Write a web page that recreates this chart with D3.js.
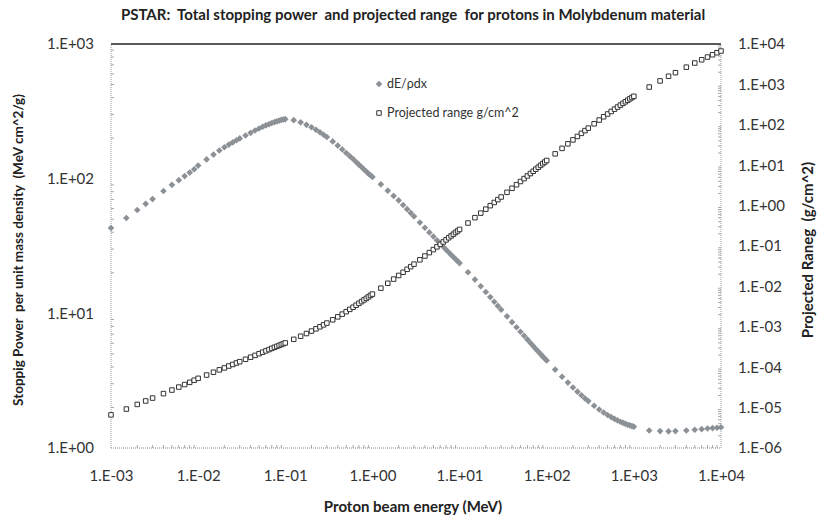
<!DOCTYPE html>
<html>
<head>
<meta charset="utf-8">
<script src="https://cdn.jsdelivr.net/npm/d3@7"></script>
<style>
  body { margin: 0; background: #fff; }
  text { font-family: Lato, "Open Sans", sans-serif; fill: #333; white-space: pre; }
  .ttl { font-weight: bold; fill: #222; }
</style>
</head>
<body>
<div id="chart"></div>
<script>
const width = 821;
const height = 519;

// PSTAR energy grid (MeV)
const energy = [0.001,0.0015,0.002,0.0025,0.003,0.004,0.005,0.006,0.007,0.008,0.009,
  0.01,0.0125,0.015,0.0175,0.02,0.0225,0.025,0.0275,0.03,0.035,0.04,0.045,0.05,0.055,0.06,0.065,0.07,0.075,0.08,0.085,0.09,0.095,
  0.1,0.125,0.15,0.175,0.2,0.225,0.25,0.275,0.3,0.35,0.4,0.45,0.5,0.55,0.6,0.65,0.7,0.75,0.8,0.85,0.9,0.95,
  1,1.25,1.5,1.75,2,2.25,2.5,2.75,3,3.5,4,4.5,5,5.5,6,6.5,7,7.5,8,8.5,9,9.5,
  10,12.5,15,17.5,20,22.5,25,27.5,30,35,40,45,50,55,60,65,70,75,80,85,90,95,
  100,125,150,175,200,225,250,275,300,350,400,450,500,550,600,650,700,750,800,850,900,950,
  1000,1500,2000,2500,3000,4000,5000,6000,7000,8000,9000,10000];

// total stopping power dE/(rho dx), MeV cm^2/g
const stopping = [43,51,58.5,65,70.5,81,90,97.5,104.5,111,117.5,
  125,139,151,162,171,179,186,193,199,209,219,228,236,243,249,254,259,263,266.5,270,273,275,
  276.5,272,262,251,241,231,221,212,204,189,176,165,155,147,140,133,127,122,117,113,109,106,
  103,90.8,81.5,74.5,69,63.8,59.4,55.7,52.5,47.3,43.2,39.9,37.2,34.9,32.9,31.2,29.7,28.4,27.2,26.2,25.2,24.4,
  23.6,20.2,17.8,15.9,14.4,13.2,12.2,11.35,10.65,9.5,8.6,7.88,7.3,6.82,6.4,6.03,5.72,5.44,5.2,4.98,4.79,4.61,
  4.46,3.82,3.38,3.06,2.815,2.62,2.465,2.335,2.23,2.06,1.933,1.835,1.758,1.696,1.644,1.602,1.567,1.537,1.511,1.489,1.471,1.455,
  1.44,1.35,1.335,1.33,1.335,1.35,1.365,1.38,1.395,1.405,1.415,1.425];

// projected range, g/cm^2
const range = [6.6e-6,9.2e-6,1.2e-5,1.46e-5,1.72e-5,2.22e-5,2.72e-5,3.22e-5,3.72e-5,4.22e-5,4.76e-5,
  5.3e-5,6.4e-5,7.5e-5,8.6e-5,9.6e-5,1.07e-4,1.17e-4,1.27e-4,1.37e-4,1.57e-4,1.77e-4,1.96e-4,2.16e-4,2.35e-4,2.54e-4,2.73e-4,2.92e-4,3.1e-4,3.28e-4,3.46e-4,3.64e-4,3.82e-4,
  3.99e-4,4.9e-4,5.84e-4,6.82e-4,7.84e-4,8.9e-4,1.001e-3,1.116e-3,1.236e-3,1.49e-3,1.764e-3,2.057e-3,2.37e-3,2.701e-3,3.049e-3,3.415e-3,3.8e-3,4.202e-3,4.62e-3,5.055e-3,5.505e-3,5.97e-3,
  6.45e-3,9.04e-3,1.195e-2,1.515e-2,1.865e-2,2.24e-2,2.65e-2,3.08e-2,3.55e-2,4.55e-2,5.65e-2,6.86e-2,8.15e-2,9.54e-2,0.110,0.126,0.142,0.160,0.178,0.196,0.216,0.236,
  0.257,0.371,0.503,0.651,0.816,0.997,1.194,1.406,1.633,2.13,2.68,3.29,3.95,4.66,5.42,6.22,7.07,7.97,8.91,9.89,10.91,11.97,
  13.07,19.1,26.1,33.8,42.3,51.5,61.4,71.8,82.7,106,131,158,185,214,244,275,307,339,372,405,439,473,
  507,860,1220,1590,1950,2670,3380,4070,4750,5420,6080,6700];

const xDomain = [1e-3, 1e4];
const yLeftDomain = [1, 1e3];
const yRightDomain = [1e-6, 1e4];

const title = "PSTAR:  Total stopping power  and projected range  for protons in Molybdenum material";
const xTitle = "Proton beam energy (MeV)";
const yLeftTitle = "Stoppig Power  per unit mass density  (MeV cm^2/g)";
const yRightTitle = "Projected Raneg  (g/cm^2)";
const legendLabels = ["dE/\u03c1dx", "Projected range g/cm^2"];

const margin = { top: 44, right: 100, bottom: 71, left: 111 };

const svg = d3.select("#chart")
  .append("svg")
  .attr("width", width)
  .attr("height", height);

const x = d3.scaleLog().domain(xDomain).range([margin.left, width - margin.right]);
const yL = d3.scaleLog().domain(yLeftDomain).range([height - margin.bottom, margin.top]);
const yR = d3.scaleLog().domain(yRightDomain).range([height - margin.bottom, margin.top]);

const fmt = d => {
  const e = Math.round(Math.log10(d));
  return "1.E" + (e < 0 ? "-" : "+") + String(Math.abs(e)).padStart(2, "0");
};
const isMajor = d => Math.abs(Math.log10(d) - Math.round(Math.log10(d))) < 1e-9;

const x0 = margin.left, x1 = width - margin.right;
const y0 = height - margin.bottom, y1 = margin.top;

// minor ticks (inward); ticks(20) gives 1..9 in every decade
const grid = svg.append("g").attr("stroke", "#aaa").attr("stroke-width", 1);
grid.selectAll(".mx").data(x.ticks(20)).join("line")
  .attr("x1", d => x(d)).attr("x2", d => x(d))
  .attr("y1", y0).attr("y2", d => y0 - (isMajor(d) ? 0 : 3));
grid.selectAll(".myl").data(yL.ticks(20)).join("line")
  .attr("x1", x0).attr("x2", d => x0 + (isMajor(d) ? 0 : 3))
  .attr("y1", d => yL(d)).attr("y2", d => yL(d));
grid.selectAll(".myr").data(yR.ticks(20)).join("line")
  .attr("x1", x1).attr("x2", d => x1 - (isMajor(d) ? 0 : 3))
  .attr("y1", d => yR(d)).attr("y2", d => yR(d));

// axis lines
const axisLines = svg.append("g").attr("fill", "none");
axisLines.append("line").attr("x1", x0).attr("x2", x1).attr("y1", y0).attr("y2", y0)
  .attr("stroke", "#888").attr("stroke-dasharray", "1,1");
axisLines.append("line").attr("x1", x0).attr("x2", x0).attr("y1", y0).attr("y2", y1)
  .attr("stroke", "#999").attr("stroke-dasharray", "1,1");
axisLines.append("line").attr("x1", x1).attr("x2", x1).attr("y1", y0).attr("y2", y1)
  .attr("stroke", "#999").attr("stroke-dasharray", "1,1");
axisLines.append("line").attr("x1", x0).attr("x2", x1).attr("y1", y1).attr("y2", y1)
  .attr("stroke", "#222").attr("stroke-width", 1.5);

// tick labels via d3 axes
const xAxis = svg.append("g").attr("transform", `translate(0,${y0})`)
  .call(d3.axisBottom(x).tickValues(x.ticks(20).filter(isMajor)).tickFormat(fmt).tickSize(0).tickPadding(22));
const yAxisL = svg.append("g").attr("transform", `translate(${x0},0)`)
  .call(d3.axisLeft(yL).tickValues(yL.ticks(20).filter(isMajor)).tickFormat(fmt).tickSize(0).tickPadding(17));
const yAxisR = svg.append("g").attr("transform", `translate(${x1},0)`)
  .call(d3.axisRight(yR).tickValues(yR.ticks(20).filter(isMajor)).tickFormat(fmt).tickSize(0).tickPadding(17));
[xAxis, yAxisL, yAxisR].forEach(a => {
  a.select(".domain").remove();
  a.selectAll("text").attr("font-size", 15).attr("font-family", "Lato, sans-serif").attr("fill", "#333");
});

// data
const pts = energy.map((e, i) => ({ e, s: stopping[i], r: range[i] }));
const diamond = d3.symbol().type(d3.symbolDiamond2).size(28);
const square = d3.symbol().type(d3.symbolSquare2).size(26);

svg.append("g").selectAll("path").data(pts).join("path")
  .attr("d", diamond)
  .attr("transform", d => `translate(${x(d.e)},${yL(d.s)})`)
  .attr("fill", "#8c9196");

svg.append("g").selectAll("path").data(pts).join("path")
  .attr("d", square)
  .attr("transform", d => `translate(${x(d.e)},${yR(d.r)})`)
  .attr("fill", "#fff")
  .attr("stroke", "#333")
  .attr("stroke-width", 1);

// legend
const legend = svg.append("g").attr("transform", "translate(379,84)");
legend.append("path").attr("d", diamond).attr("fill", "#8c9196");
legend.append("text").attr("x", 8).attr("dy", "0.35em").attr("font-size", 12.5).text(legendLabels[0]);
legend.append("path").attr("d", square).attr("transform", "translate(0,29)")
  .attr("fill", "#fff").attr("stroke", "#333");
legend.append("text").attr("x", 8).attr("y", 29).attr("dy", "0.35em").attr("font-size", 12.5).text(legendLabels[1]);

// titles
svg.append("text").attr("class", "ttl").attr("x", 413).attr("y", 20)
  .attr("text-anchor", "middle").attr("font-size", 15).text(title);
svg.append("text").attr("class", "ttl").attr("x", 413).attr("y", 512)
  .attr("text-anchor", "middle").attr("font-size", 15).text(xTitle);
svg.append("text").attr("class", "ttl")
  .attr("transform", "translate(23,250) rotate(-90)")
  .attr("text-anchor", "middle").attr("font-size", 13.5).text(yLeftTitle);
svg.append("text").attr("class", "ttl")
  .attr("transform", "translate(813,250) rotate(-90)")
  .attr("text-anchor", "middle").attr("font-size", 15).text(yRightTitle);
</script>
</body>
</html>
